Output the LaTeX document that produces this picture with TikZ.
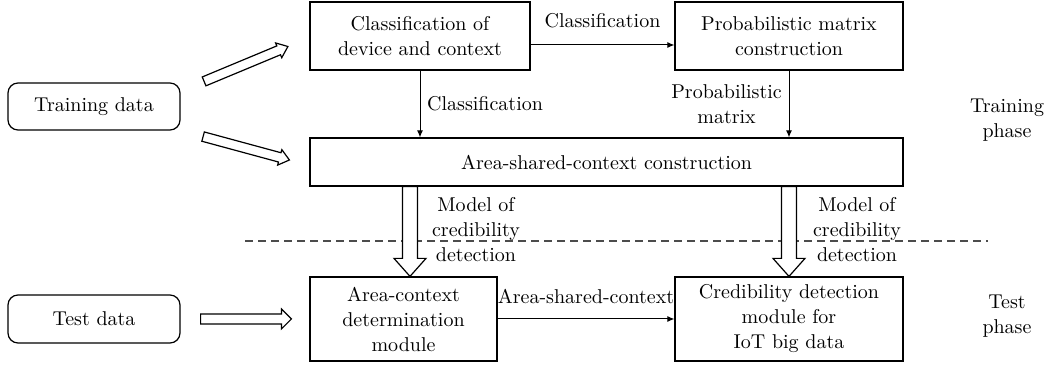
\documentclass[tikz,border=0pt]{standalone}
\usetikzlibrary{calc,arrows.meta,positioning}

% outlined (hollow) arrow between two named coordinates
% #1 from, #2 to, #3 shaft half width, #4 head half width, #5 head length
\newcommand\hollowarrow[5]{%
  \coordinate (hb) at ($(#2)!#5!(#1)$);
  \draw[hollow] ($(#1)!#3!90:(#2)$) -- ($(hb)!#3!90:(#2)$)
    -- ($(hb)!#4!90:(#2)$) -- (#2) -- ($(hb)!#4!-90:(#2)$)
    -- ($(hb)!#3!-90:(#2)$) -- ($(#1)!#3!-90:(#2)$) -- cycle;}

\begin{document}
\begin{tikzpicture}[
  x=0.5pt,y=-0.5pt,
  font=\fontsize{10pt}{12.5pt}\selectfont,
  box/.style={draw,line width=0.6pt,align=center,inner sep=0pt},
  datum/.style={box,rounded corners=5pt},
  flow/.style={-{Latex[length=3.5pt,width=3pt]},line width=0.5pt},
  hollow/.style={draw,line width=0.6pt,fill=white,line join=miter},
  lbl/.style={align=center},
  phase/.style={dashed,dash pattern=on 4pt off 2.5pt,line width=0.6pt,black!70}
]
  \useasboundingbox (0,0) rectangle (1046,368);

  % training part
  \node[box,minimum width=110pt,minimum height=34pt] (cls) at (420,36)
    {Classification of\\device and context};
  \node[box,minimum width=114pt,minimum height=34pt] (prob) at (789,36)
    {Probabilistic matrix\\construction};
  \node[box,minimum width=296.5pt,minimum height=24pt] (asc) at (606.5,162)
    {Area-shared-context construction};
  \node[datum,minimum width=86pt,minimum height=23.5pt] (train) at (94,106.5)
    {Training data};

  % test part
  \node[box,minimum width=93.5pt,minimum height=42pt] (acd) at (403.5,319)
    {Area-context\\determination\\module};
  \node[box,minimum width=114pt,minimum height=42pt] (cdm) at (789,319)
    {Credibility detection\\module for\\IoT big data};
  \node[datum,minimum width=86pt,minimum height=24pt] (test) at (94,319)
    {Test data};

  % phases
  \coordinate (dl) at (245,241);
  \coordinate (dr) at (988,241);
  \draw[phase] (dl) -- (dr);
  \node[lbl] (trph) at (1007,120) {Training\\phase};
  \node[lbl] (teph) at (1007,316) {Test\\phase};

  % thin arrows
  \coordinate (c1) at ([yshift=-4.5pt]cls.east);
  \draw[flow] (c1) -- (c1 -| prob.west)
    node[midway,above,yshift=5pt] (l1) {Classification};
  \draw[flow] (cls.south) -- (cls.south |- asc.north)
    node[midway,right] (l2) {Classification};
  \draw[flow] (prob.south) -- (prob.south |- asc.north)
    node[lbl,midway,left] (l3) {Probabilistic\\matrix};
  \draw[flow] (acd.east) -- (acd.east -| cdm.west)
    node[midway,above,yshift=4pt] (l4) {Area-shared-context};

  % hollow arrows
  \coordinate (d1s) at ($(train.north east)+(23.5,-1)$);
  \coordinate (d1e) at ($(cls.west)+(-21.5,10.5)$);
  \coordinate (d2s) at ($(train.south east)+(22.5,6)$);
  \coordinate (d2e) at ($(asc.west)+(-20,-2)$);
  \hollowarrow{d1s}{d1e}{2.4pt}{4pt}{5pt}
  \hollowarrow{d2s}{d2e}{2.4pt}{4pt}{5pt}

  \coordinate (m1) at (410,0);
  \coordinate (v1s) at (asc.south -| m1);
  \coordinate (v1e) at (acd.north -| m1);
  \coordinate (v2s) at (asc.south -| cdm.north);
  \coordinate (v2e) at (cdm.north);
  \hollowarrow{v1s}{v1e}{3.75pt}{8pt}{9pt}
  \hollowarrow{v2s}{v2e}{3.75pt}{8pt}{9pt}
  \node[lbl,anchor=west] (mod1) at ($(v1s)!0.5!(v1e)+(15,-2)$)
    {Model of\\credibility\\detection};
  \node[lbl,anchor=west] (mod2) at ($(v2s)!0.5!(v2e)+(17,-2)$)
    {Model of\\credibility\\detection};

  \coordinate (t1) at ($(test.east)+(20,0)$);
  \coordinate (t2) at ($(acd.west)+(-18,0)$);
  \hollowarrow{t1}{t2}{2.5pt}{5pt}{5pt}
\end{tikzpicture}
\end{document}
